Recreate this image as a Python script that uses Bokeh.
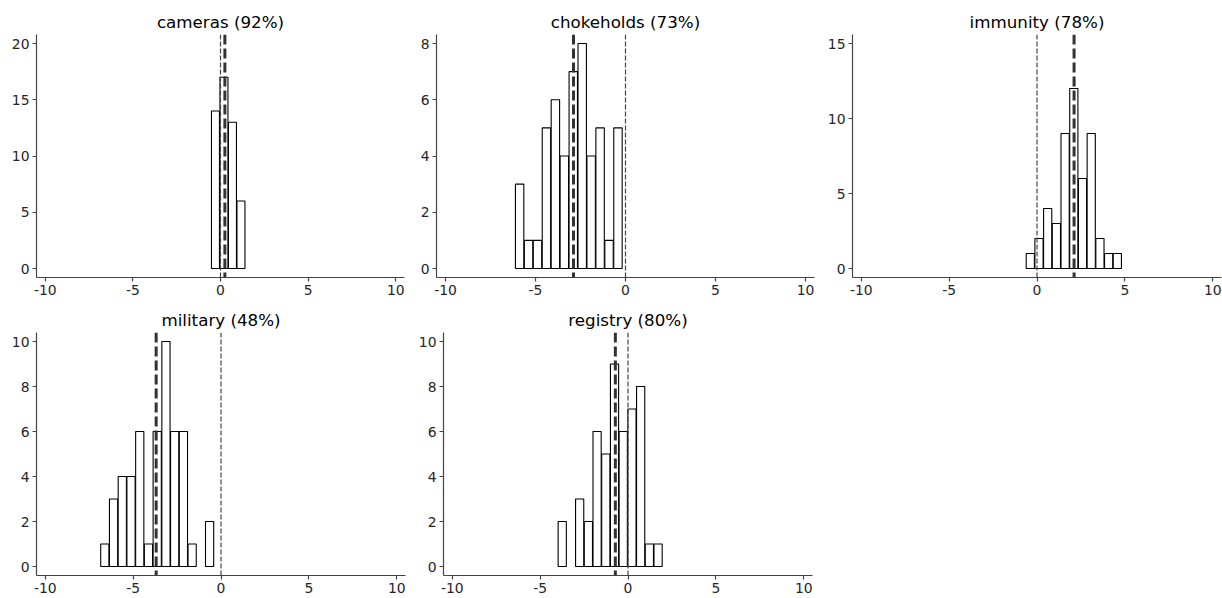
import numpy as np
from bokeh.plotting import figure
from bokeh.models import Range1d, FixedTicker, Span, ColumnDataSource
from bokeh.layouts import column, row
from bokeh.embed import file_html
from bokeh.resources import INLINE

# ---- data ----
names = ["cameras", "chokeholds", "immunity", "military", "registry"]
percents = [92, 73, 78, 48, 80]

cameras_counts = [14, 17, 13, 6]
chokeholds_counts = [3, 1, 1, 5, 6, 4, 7, 8, 4, 5, 1, 5]
immunity_counts = [1, 2, 4, 3, 9, 12, 6, 9, 2, 1, 1]
military_counts = [1, 3, 4, 4, 6, 1, 6, 10, 6, 6, 1, 0, 2]
registry_counts = [2, 0, 3, 2, 6, 5, 9, 6, 7, 8, 1, 1]

# histogram ranges (lowest edge, highest edge)
hist_lo = [-0.53, -6.13, -0.63, -6.86, -3.99]
hist_hi = [1.41, -0.17, 4.82, -0.40, 1.96]

means = [0.25, -2.89, 2.11, -3.69, -0.72]

y_max = [20, 8, 15, 10, 10]
y_step = [5, 2, 5, 2, 2]
x_ticks = [-10, -5, 0, 5, 10]

all_counts = [cameras_counts, chokeholds_counts, immunity_counts,
              military_counts, registry_counts]

# ---- layout (pixels) ----
frame_w = [368, 378, 369, 369, 369]
b_left = [36, 17, 27, 36, 25]
b_right = [13, 10, 4, 10, 10]
b_top = [34, 34, 34, 32, 32]
b_bottom = [23, 23, 23, 23, 23]
FRAME_H = 243

TXT = "#262626"
FONT = "DejaVu Sans"


def make_panel(i):
    counts = np.array(all_counts[i], dtype=float)
    edges = np.linspace(hist_lo[i], hist_hi[i], len(counts) + 1)
    bw = edges[1] - edges[0]
    centers = (edges[:-1] + edges[1:]) / 2
    keep = counts > 0
    src = ColumnDataSource(dict(x=centers[keep], top=counts[keep]))

    M = y_max[i]
    p = figure(frame_width=frame_w[i], frame_height=FRAME_H,
               min_border_left=b_left[i], min_border_right=b_right[i],
               min_border_top=b_top[i], min_border_bottom=b_bottom[i],
               x_range=Range1d(-10.5, 10.5), y_range=Range1d(-0.04 * M, 1.04 * M),
               output_backend="svg", toolbar_location=None,
               title=f"{names[i]} ({percents[i]}%)")
    p.vbar(x="x", top="top", bottom=0, width=bw * 0.94, source=src,
           fill_color="white", line_color="black", line_width=1.1)

    p.add_layout(Span(location=0, dimension="height", line_color="#444444",
                      line_width=1.2, line_dash="5 2"))
    p.add_layout(Span(location=means[i], dimension="height", line_color="#333333",
                      line_width=3, line_dash="10 4"))

    p.title.align = "center"
    p.title.text_font = FONT
    p.title.text_font_style = "normal"
    p.title.text_font_size = "16.7px"
    p.title.text_color = "black"
    p.title.standoff = 5

    yt = list(range(0, M + 1, y_step[i]))
    p.xaxis.ticker = FixedTicker(ticks=x_ticks)
    p.yaxis.ticker = FixedTicker(ticks=yt)
    p.xaxis.major_label_overrides = {t: str(t) for t in x_ticks}
    p.yaxis.major_label_overrides = {t: str(t) for t in yt}
    for ax in (p.xaxis, p.yaxis):
        ax.axis_line_color = "#444444"
        ax.axis_line_width = 1.2
        ax.major_tick_line_color = "#444444"
        ax.major_tick_line_width = 1.2
        ax.major_tick_out = 4
        ax.major_tick_in = 0
        ax.minor_tick_line_color = None
        ax.major_label_text_font = FONT
        ax.major_label_text_font_size = "13.9px"
        ax.major_label_text_color = TXT
        ax.major_label_standoff = 3
    p.xgrid.grid_line_color = None
    p.ygrid.grid_line_color = None
    p.outline_line_color = None
    p.background_fill_color = "white"
    p.border_fill_color = "white"
    return p


panels = [make_panel(i) for i in range(5)]
layout = column(row(panels[0], panels[1], panels[2]),
                row(panels[3], panels[4]))

open("out.html", "w").write(file_html(layout, INLINE))
